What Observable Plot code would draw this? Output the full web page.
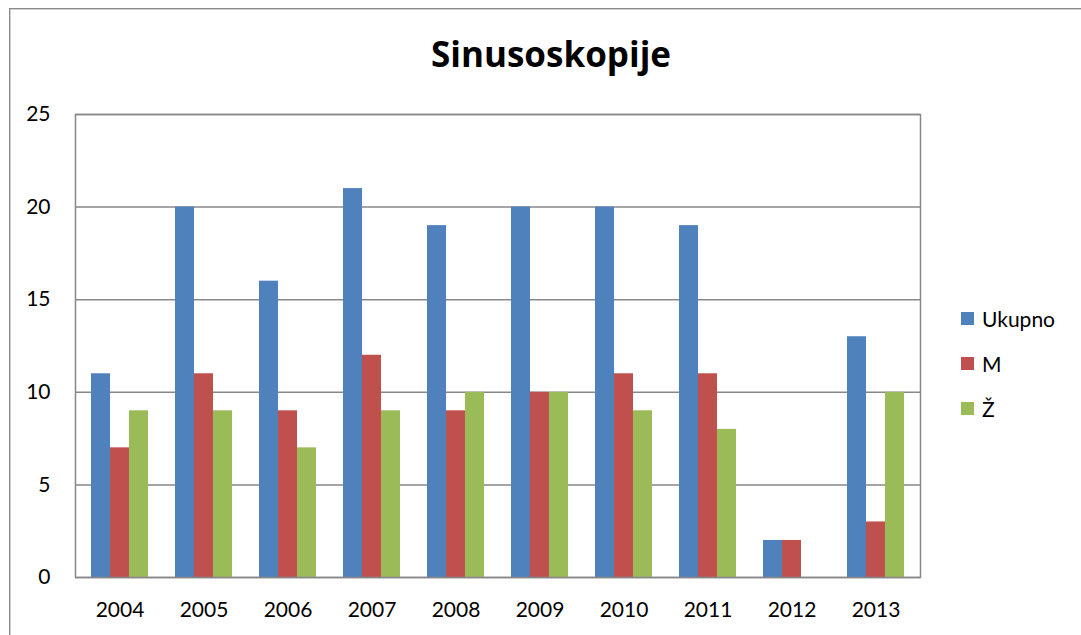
<!DOCTYPE html>
<html>
<head>
<meta charset="utf-8">
<script src="https://cdn.jsdelivr.net/npm/d3@7"></script>
<script src="https://cdn.jsdelivr.net/npm/@observablehq/plot@0.6"></script>
<style>
  html, body { margin: 0; padding: 0; background: #fff; overflow: hidden; }
  #wrap { position: relative; width: 1081px; height: 635px; font-family: Lato, "Open Sans", sans-serif; }
  #border { position: absolute; left: 9px; top: 8px; width: 1200px; height: 800px;
            border-left: 1px solid #8a8a8a; border-top: 1px solid #8a8a8a;
            box-shadow: inset 1px 1px 0 #d0d0d0; }
  #title { position: absolute; left: 0; width: 1102px; top: 32px; text-align: center;
           font-family: "Open Sans", Lato, sans-serif;
           font-weight: bold; font-size: 35px; line-height: 44px; color: #000; }
  #chart { position: absolute; left: 0; top: 0; }
  #legend { position: absolute; left: 961px; top: 305px; display: flex; flex-direction: column; gap: 19px; }
  .item { display: flex; align-items: center; height: 26px; font-size: 21px; color: #000; }
  .sw { width: 13px; height: 13px; margin-right: 8px; }
</style>
</head>
<body>
<div id="wrap">
  <div id="border"></div>
  <div id="chart"></div>
  <div id="title">Sinusoskopije</div>
  <div id="legend"></div>
</div>
<script>
const years = ["2004","2005","2006","2007","2008","2009","2010","2011","2012","2013"];
const series = ["Ukupno", "M", "Ž"];
const ukupno = [11, 20, 16, 21, 19, 20, 20, 19, 2, 13];
const m      = [7, 11, 9, 12, 9, 10, 11, 11, 2, 3];
const z      = [9, 9, 7, 9, 10, 10, 9, 8, 0, 10];
const colors = ["#4F81BD", "#C0504D", "#9BBB59"];
const yTicks = [0, 5, 10, 15, 20, 25];

const seriesValues = [ukupno, m, z];
const rows = [];
series.forEach((s, i) => years.forEach((y, j) => rows.push({year: y, series: s, value: seriesValues[i][j]})));

const W = 1081, H = 635;
const mL = 75, mR = 161, mT = 114, mB = 58;
const padIn = 0.326, padOut = 0.163;
const plotW = W - mL - mR;
const step = plotW / (years.length - padIn + 2 * padOut);
const bw = step * (1 - padIn);
const k = series.length;

const grid = "#878787";
const barMarks = series.map((s, i) => Plot.barY(rows.filter(d => d.series === s), {
  x: "year", y: "value", fill: colors[i],
  insetLeft: i * bw / k, insetRight: (k - 1 - i) * bw / k
}));

const chart = Plot.plot({
  width: W, height: H,
  marginLeft: mL, marginRight: mR, marginTop: mT, marginBottom: mB,
  style: { fontFamily: "Lato, 'Open Sans', sans-serif", fontSize: "21px", color: "#000", background: "transparent" },
  x: { domain: years, paddingInner: padIn, paddingOuter: padOut, label: null, tickSize: 0, tickPadding: 25 },
  y: { domain: [0, 25], ticks: yTicks, label: null, tickSize: 0, tickPadding: 25 },
  marks: [
    Plot.ruleY(yTicks, { stroke: grid, strokeWidth: 1.5 }),
    ...barMarks,
    Plot.frame({ stroke: grid, strokeWidth: 1.5 })
  ]
});
document.getElementById("chart").appendChild(chart);

const legend = document.getElementById("legend");
series.forEach((s, i) => {
  const it = document.createElement("div");
  it.className = "item";
  const sw = document.createElement("span");
  sw.className = "sw"; sw.style.background = colors[i];
  const t = document.createElement("span");
  t.textContent = s;
  it.appendChild(sw); it.appendChild(t);
  legend.appendChild(it);
});
</script>
</body>
</html>
